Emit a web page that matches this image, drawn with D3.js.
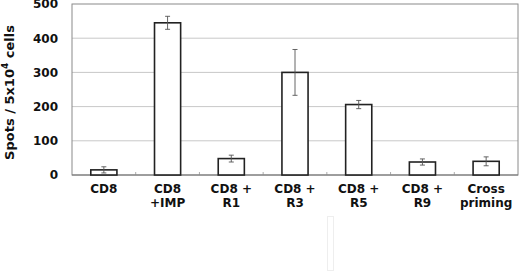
<!DOCTYPE html>
<html>
<head>
<meta charset="utf-8">
<script src="https://cdn.jsdelivr.net/npm/d3@7"></script>
<style>
  body { margin: 0; background: #fff; }
  svg { display: block; font-family: "DejaVu Sans", sans-serif; }
</style>
</head>
<body>
<svg id="chart" width="520" height="273"></svg>
<script>
// data
var groups = ["CD8", "CD8 +IMP", "CD8 + R1", "CD8 + R3", "CD8 + R5", "CD8 + R9", "Cross priming"];
var labelLines = [["CD8"], ["CD8", "+IMP"], ["CD8 +", "R1"], ["CD8 +", "R3"], ["CD8 +", "R5"], ["CD8 +", "R9"], ["Cross", "priming"]];
var spots = [15, 445, 48, 300, 206, 38, 40];
var errs = [9, 19, 10, 67, 12, 9, 13];
var yTicks = [0, 100, 200, 300, 400, 500];

var svg = d3.select("#chart");
var margin = { left: 72, right: 2, top: 4, bottom: 98 };
var width = 520 - margin.left - margin.right;
var height = 273 - margin.top - margin.bottom;

var g = svg.append("g").attr("transform", "translate(" + margin.left + "," + margin.top + ")");

var x = d3.scaleBand().domain(groups).range([0, width]).paddingInner(0.59).paddingOuter(0.295);
var y = d3.scaleLinear().domain([0, 500]).range([height, 0]);

// gridlines
g.selectAll(".grid")
  .data(yTicks.filter(function (d) { return d > 0 && d < 500; }))
  .enter().append("line")
  .attr("x1", 0).attr("x2", width)
  .attr("y1", function (d) { return y(d); })
  .attr("y2", function (d) { return y(d); })
  .attr("stroke", "#c8c8c8").attr("stroke-width", 1);

// plot frame
g.append("rect")
  .attr("x", 0).attr("y", 0).attr("width", width).attr("height", height)
  .attr("fill", "none").attr("stroke", "#8a8a8a").attr("stroke-width", 1);

// x axis with small boundary ticks
var step = x.step();
g.selectAll(".xtick")
  .data(d3.range(1, groups.length))
  .enter().append("line")
  .attr("x1", function (i) { return i * step; })
  .attr("x2", function (i) { return i * step; })
  .attr("y1", height - 3).attr("y2", height)
  .attr("stroke", "#aaa");
g.append("line")
  .attr("x1", 0).attr("x2", width).attr("y1", height).attr("y2", height)
  .attr("stroke", "#777");

// y axis labels
var yAxis = g.append("g").call(d3.axisLeft(y).tickValues(yTicks).tickSize(0).tickPadding(14));
yAxis.select(".domain").remove();
yAxis.selectAll("text")
  .attr("font-size", 12).attr("font-weight", "bold").attr("fill", "#111")
  .attr("font-family", "DejaVu Sans, sans-serif");

// bars
g.selectAll(".bar")
  .data(groups)
  .enter().append("rect")
  .attr("x", function (d) { return x(d); })
  .attr("width", x.bandwidth())
  .attr("y", function (d, i) { return y(spots[i]); })
  .attr("height", function (d, i) { return height - y(spots[i]); })
  .attr("fill", "#fff").attr("stroke", "#222").attr("stroke-width", 1.6);

// error bars
var eb = g.selectAll(".err").data(groups).enter().append("g");
eb.append("line")
  .attr("x1", function (d) { return x(d) + x.bandwidth() / 2; })
  .attr("x2", function (d) { return x(d) + x.bandwidth() / 2; })
  .attr("y1", function (d, i) { return y(spots[i] - errs[i]); })
  .attr("y2", function (d, i) { return y(spots[i] + errs[i]); })
  .attr("stroke", "#555").attr("stroke-width", 0.9);
[-1, 1].forEach(function (s) {
  eb.append("line")
    .attr("x1", function (d) { return x(d) + x.bandwidth() / 2 - 2.5; })
    .attr("x2", function (d) { return x(d) + x.bandwidth() / 2 + 2.5; })
    .attr("y1", function (d, i) { return y(spots[i] + s * errs[i]); })
    .attr("y2", function (d, i) { return y(spots[i] + s * errs[i]); })
    .attr("stroke", "#555").attr("stroke-width", 0.9);
});

// category labels
var xl = g.selectAll(".xlab").data(groups).enter().append("text")
  .attr("text-anchor", "middle")
  .attr("font-size", 12).attr("font-weight", "bold").attr("fill", "#111")
  .attr("transform", function (d) { return "translate(" + (x(d) + x.bandwidth() / 2) + "," + (height + 18) + ")"; });
xl.selectAll("tspan")
  .data(function (d, i) { return labelLines[i]; })
  .enter().append("tspan")
  .attr("x", 0)
  .attr("dy", function (d, i) { return i === 0 ? 0 : 14; })
  .text(function (d) { return d; });

// y axis title
var yt = svg.append("text")
  .attr("transform", "translate(14," + (margin.top + height / 2 + 3) + ") rotate(-90)")
  .attr("text-anchor", "middle")
  .attr("font-size", 13).attr("font-weight", "bold").attr("fill", "#111");
yt.append("tspan").text("Spots / 5x10");
yt.append("tspan").attr("font-size", 9).attr("dy", -6).text("4");
yt.append("tspan").attr("dy", 6).text(" cells");

// faint scan artefact below the axis
svg.append("rect")
  .attr("x", 327.5).attr("y", 216.5).attr("width", 6).attr("height", 54)
  .attr("fill", "none").attr("stroke", "#eeeeee");
</script>
</body>
</html>
